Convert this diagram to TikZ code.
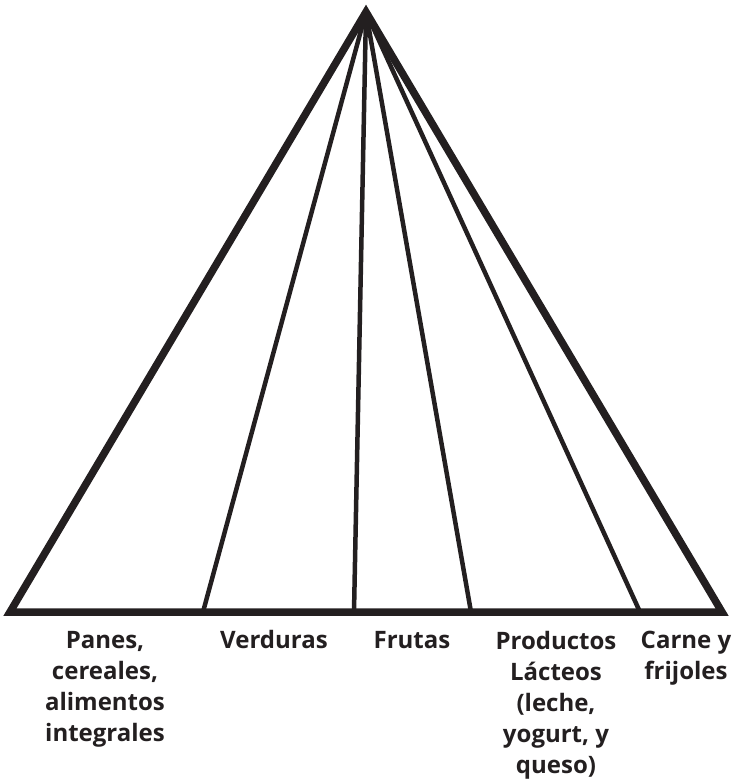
\documentclass[tikz,border=0pt]{standalone}
\usepackage{fontspec}
\setmainfont{Open Sans}
\usepackage{xcolor}
\usetikzlibrary{positioning}
\definecolor{ink}{HTML}{231F20}

\begin{document}
\begin{tikzpicture}[x=1pt, y=-1pt,
    lbl/.style={font=\bfseries\fontsize{24}{31}\selectfont, text=ink, align=center, anchor=north, inner sep=0pt}]
      \useasboundingbox (0,0) rectangle (739,780);

      % corners of the pyramid
      \coordinate (top) at (366,12);
      \coordinate (bl) at (10,612);
      \coordinate (br) at (722,612);

      % dividers on the base
      \coordinate (d1) at (203,612);
      \coordinate (d2) at (354,612);
      \coordinate (d3) at (471,612);
      \coordinate (d4) at (640,612);

      \draw[ink, line width=4.5pt] (top) -- (d1);
      \draw[ink, line width=4.5pt] (top) -- (d2);
      \draw[ink, line width=4.5pt] (top) -- (d3);
      \draw[ink, line width=4.5pt] (top) -- (d4);

      \draw[ink, line width=7.5pt, line join=miter] (top) -- (bl) -- (br) -- cycle;

      % food groups
      \node[lbl] (panes) at (105,631) {Panes,\\cereales,\\alimentos\\integrales};
      \node[lbl] (verduras) at (274,630) {Verduras};
      \node[lbl] (frutas) at (412,631) {Frutas};
      \node[lbl] (lacteos) at (556,631) {Productos\\Lácteos\\(leche,\\yogurt, y\\queso)};
      \node[lbl] (carne) at (686,631) {Carne y\\frijoles};
\end{tikzpicture}
\end{document}
